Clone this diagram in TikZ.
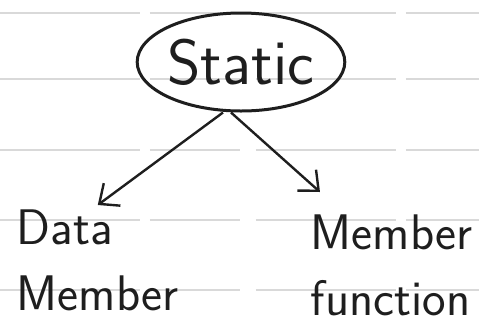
\documentclass[tikz,border=0pt]{standalone}
\usepackage{fontspec}
\usetikzlibrary{arrows.meta, positioning, shapes.geometric, calc}
\definecolor{cink}{HTML}{1E1E1E}
\definecolor{crule}{HTML}{D9D9D9}
\tikzset{
  every picture/.style={font=\sffamily, line width=1pt},
  bubble/.style={ellipse, draw=cink, line width=1.5pt, minimum width=102pt, minimum height=49pt, inner sep=0pt},
  word/.style={align=left, text=cink, inner sep=2pt, font=\sffamily\fontsize{25}{33}\selectfont},
  arrow/.style={-{Straight Barb[length=8pt, width=14pt]}, draw=cink, line width=1.2pt},
  rule/.style={draw=crule, line width=0.6pt, dash pattern=on 70pt off 5pt on 45pt off 8pt},
}

\begin{document}
\begin{tikzpicture}[x=0.5pt, y=-0.5pt]
  \useasboundingbox (0,0) rectangle (479,334);
  % notebook lines
  \foreach \y in {13,79,150,220,290} \draw[rule] (0,\y) -- (479,\y);
  \node[bubble, font=\sffamily\fontsize{32}{36}\selectfont, text=cink] (static) at (241,62) {Static};
  \node[word, anchor=north west] (data) at (12,205) {Data\\Member};
  \node[word, anchor=north west] (func) at (306,210) {Member\\function};
  \draw[arrow] ([xshift=-9pt]static.south) -- (data.north);
  \draw[arrow] ([xshift=-5pt]static.south) -- ([xshift=7pt, yshift=9pt]func.north west);
\end{tikzpicture}
\end{document}
